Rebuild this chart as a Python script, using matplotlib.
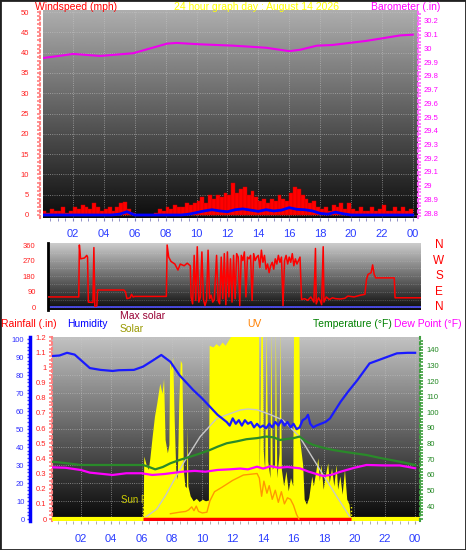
import numpy as np
import matplotlib
matplotlib.use('Agg')
import matplotlib.pyplot as plt
from matplotlib.patches import Rectangle
from matplotlib.transforms import blended_transform_factory

plt.rcParams['font.family'] = ['Liberation Sans', 'DejaVu Sans']

# ---------------- data ----------------
hour_ticks = list(range(2, 25, 2))
hour_labels = ['02', '04', '06', '08', '10', '12', '14', '16', '18', '20', '22', '00']

# barometer (inHg)
baro_hours = [0.06, 1.4, 2.0, 3.75, 5.9, 7.0, 8.1, 8.7, 10.2, 12.4, 14.5, 16.0, 16.7,
              17.8, 18.8, 21.0, 22.1, 23.2, 24.0]
baro_in = [29.93, 29.95, 29.96, 29.945, 29.965, 30.0, 30.035, 30.04, 30.03, 30.02,
           30.005, 29.98, 29.99, 30.02, 30.025, 30.055, 30.075, 30.095, 30.1]

# wind gust (mph), one value per 15 minutes
gust = [1, 0.5, 1.5, 1,   1, 2, 0.5, 1,   2, 1.5, 2.5, 2,   1.5, 3, 2, 1,
        1.5, 2, 1, 2,     3, 3.3, 1.5, 0.5,  0, 0, 0, 0,   0, 0.5, 1.5, 1,
        2, 1.5, 2.5, 2,   2, 3, 2.5, 3,   3.5, 4.5, 3, 5,   4, 5, 4.5, 5.5,
        5, 7.9, 5.5, 6.5,  7, 5, 6, 4.5,  3.5, 4, 3, 4,   3.5, 5, 4, 3.5,
        5.5, 7, 6.5, 5,   4, 3, 3.5, 2,   1.5, 2, 1, 2.5,  2, 3, 1.5, 3,
        1.5, 1, 2, 1,     1, 2, 1, 1.5,   2.5, 1, 1, 2,   1, 2, 1, 1.5]
gust_hours = np.arange(len(gust)) * 0.25

# average wind speed (mph), half-hourly
avg_hours = np.arange(49) * 0.5
avg_wind = [0, 0, 0, 0, 0, 0, 0, 0, 0, 0, 0.2, 0.8, 0, 0, 0, 0, 0, 0, 0, 0.2,
            0.6, 1.0, 1.3, 1.0, 0.8, 1.3, 1.5, 1.2, 0.9, 1.3, 1.0, 1.2, 1.8, 1.4,
            1.3, 1.0, 0.4, 0.2, 0.7, 0.3, 0, 0, 0, 0, 0, 0, 0, 0, 0]

# wind direction (degrees)
dir_hours = [0.39, 2.38, 2.42, 2.5, 2.75, 2.9, 2.95, 3.0, 3.3, 3.36, 3.42, 3.55, 3.6,
             5.3, 5.4, 5.5, 5.7, 5.8, 5.9, 6.0, 8.05, 8.1, 8.2, 8.35, 8.6, 8.8, 8.95,
             9.2, 9.4, 9.6, 9.65, 9.75, 9.85, 9.95, 10.05, 10.15, 10.25, 10.35, 10.45,
             10.55, 10.65, 10.75, 10.85, 10.95, 11.05, 11.15, 11.3, 11.4, 11.5, 11.6,
             11.7, 11.8, 11.9, 12.0, 12.1, 12.2, 12.3, 12.4, 12.5, 12.6, 12.7, 12.8,
             12.9, 13.0, 13.1, 13.2, 13.3, 13.4, 13.5, 13.6, 13.7, 13.8, 13.9, 14.0,
             14.1, 14.2, 14.3, 14.4, 14.5, 14.6, 14.7, 14.8, 14.9, 15.0, 15.1, 15.2,
             15.3, 15.4, 15.5, 15.6, 15.7, 15.8, 15.9, 16.0, 16.1, 16.2, 16.3, 16.4,
             16.5, 16.6, 16.7, 16.8, 17.0, 17.2, 17.4, 17.6, 17.7, 17.75, 17.9, 18.0,
             18.1, 18.2, 18.25, 18.4, 18.6, 18.8, 19.0, 19.3, 19.6, 19.8, 20.2, 20.6,
             20.9, 21.0, 21.1, 21.3, 21.4, 21.5, 21.6, 22.8, 22.85, 24.53]
dir_deg = [60, 60, 360, 280, 285, 300, 290, 30, 28, 345, 5, 8, 100,
           100, 90, 50, 55, 75, 60, 63, 63, 360, 290, 265, 250, 215, 250,
           240, 255, 240, 60, 20, 300, 40, 350, 30, 60, 320, 45,
           10, 40, 330, 50, 70, 30, 45, 300, 40, 20, 290,
           50, 310, 15, 320, 60, 280, 30, 300, 50, 310, 290, 10,
           300, 270, 320, 60, 290, 280, 300, 40, 310, 270, 290, 300,
           230, 330, 260, 300, 220, 250, 200, 240, 260, 220, 280, 250,
           300, 260, 290, 10, 270, 300, 250, 290, 260, 310, 240, 280,
           250, 270, 290, 45, 50, 40, 60, 30, 340, 20, 55, 40,
           15, 350, 30, 60, 45, 55, 50, 48, 52, 65, 60, 70,
           75, 160, 190, 200, 245, 190, 170, 170, 55, 55]

# humidity (%)
hum_hours = [0.1, 0.6, 1.1, 1.6, 2.0, 2.6, 3.3, 4.1, 4.5, 5.5, 6.1, 6.7, 7.3, 7.9, 8.5,
             9.4, 10.0, 10.5, 11.0, 11.6, 11.8, 12.0, 12.2, 12.4, 12.6, 12.8, 13.0,
             13.2, 13.4, 13.6, 13.8, 14.0, 14.2, 14.4, 14.6, 14.8, 15.0, 15.2, 15.4,
             15.6, 15.8, 16.0, 16.2, 16.4, 16.6, 16.8, 16.95, 17.1, 17.3, 17.5, 17.8,
             18.1, 18.4, 18.7, 19.1, 19.6, 20.2, 21.0, 21.9, 22.8, 23.5, 24.0]
hum = [90.7, 91, 92.5, 91.5, 88.5, 84, 83, 82.4, 82.8, 83, 84.8, 88, 91.3, 87.5, 80,
       71.8, 67, 62.5, 58, 54, 52, 56, 53, 55, 52, 55, 53,
       54, 51, 53, 51, 52, 50.5, 53, 51, 54, 52, 55, 52,
       54, 51, 53, 50, 51, 55, 56, 58, 53, 51, 52, 53,
       54, 56, 60, 65.3, 71, 77.3, 86.6, 89.4, 92.2, 92.5, 92.5]

# temperature and dew point (F)
temp_hours = [0.1, 1.0, 2.0, 4.0, 6.1, 6.5, 6.9, 7.4, 7.9, 8.5, 9.2, 9.8, 10.5, 11.0,
              11.6, 12.3, 12.9, 13.6, 14.2, 14.7, 15.1, 15.6, 16.0, 16.4, 16.8, 17.3,
              18.0, 18.6, 19.5, 20.8, 21.6, 22.4, 23.2, 24.0]
temp = [68.4, 67.5, 66.3, 66.3, 66.3, 65, 63.5, 65, 67.4, 69.5, 71.6, 73.5, 75.9, 78,
        80.2, 81.5, 82.8, 83.5, 84.5, 84, 82.3, 83, 83.5, 84.5, 81.5, 79.1,
        77.2, 75.9, 74.5, 72.7, 71, 69.5, 68, 66.3]
dew_hours = [0.1, 1.0, 2.0, 2.6, 3.5, 4.1, 5.0, 6.0, 6.7, 7.5, 8.7, 9.5, 10.2, 11.0,
             11.8, 12.5, 13.0, 13.6, 14.0, 14.5, 15.0, 15.6, 16.4, 17.0, 17.95, 18.5,
             19.1, 20.0, 20.8, 22.0, 23.0, 24.0]
dew = [64.8, 64.5, 63.1, 61.4, 60.5, 59.9, 61, 61, 59.9, 60.5, 62, 62.5, 62, 63.1,
       63.5, 64, 63.5, 65.2, 64, 65.5, 64.5, 65, 64.2, 62, 59.2, 60,
       62, 64.5, 66.3, 66, 66, 64.2]

# solar radiation (W/m2)
solar_hours = [6.0, 6.1, 6.15, 6.3, 6.45, 6.55, 6.7, 6.85, 7.0, 7.2, 7.35, 7.45, 7.55,
               7.7, 7.8, 7.85, 7.95, 8.05, 8.15, 8.25, 8.35, 8.45, 8.55, 8.65, 8.75,
               8.85, 8.95, 9.0, 9.05, 9.2, 9.4, 9.6, 9.8, 10.0, 10.2, 10.4, 10.45,
               10.7, 10.9, 11.1, 11.3, 11.5, 11.7, 11.9, 12.2, 13.0, 13.7, 13.75, 13.85,
               13.95, 14.0, 14.1, 14.2, 14.3, 14.45, 14.5, 14.6, 14.75, 14.8, 14.9,
               15.05, 15.1, 15.2, 15.35, 15.5, 15.65, 15.8, 15.95, 16.0, 16.35, 16.4,
               16.6, 16.7, 16.85, 17.0, 17.2, 17.3, 17.45, 17.6, 17.7, 17.8, 17.95,
               18.1, 18.25, 18.35, 18.5, 18.65, 18.8, 18.9, 19.05, 19.2, 19.35, 19.5,
               19.65, 19.75]
solar = [0, 0, 380, 330, 300, 370, 500, 620, 700, 820, 760, 850, 480,
         400, 450, 970, 900, 980, 600, 300, 240, 700, 960, 940, 300,
         200, 190, 560, 200, 140, 110, 125, 105, 120, 110, 115, 1050,
         1040, 1060, 1045, 1070, 1050, 1080, 1110, 1150, 1150, 1150, 280, 1150,
         1150, 420, 300, 1150, 350, 250, 1150, 300, 330, 1150, 250,
         400, 1150, 300, 200, 290, 170, 250, 200, 1150, 1150, 480,
         330, 120, 90, 130, 260, 200, 280, 370, 230, 330, 180,
         270, 340, 220, 310, 200, 330, 180, 260, 150, 300, 120,
         90, 0]

maxsolar_hours = [6.1, 7.0, 7.6, 8.75, 9.85, 10.95, 12.5, 13.0, 13.6, 14.5, 15.3, 16.4,
                  17.75, 18.85, 19.8]
maxsolar = [0, 60, 145, 337, 497, 608, 659, 665, 660, 630, 598, 497, 296, 135, 0]

# UV index
uv_hours = [7.9, 8.5, 8.9, 9.1, 9.3, 9.45, 9.6, 9.75, 10.0, 10.3, 10.5, 10.8, 11.3,
            12.0, 12.7, 13.6, 13.75, 13.9, 14.05, 14.25, 14.4, 14.6, 14.8, 15.0,
            15.2, 15.4, 15.6, 15.8, 16.0, 16.2, 16.35]
uv = [0.35, 0.45, 0.5, 0.6, 0.8, 0.55, 0.85, 0.5, 0.4, 0.45, 1.2, 1.8, 2.1,
      2.55, 2.9, 3.0, 2.7, 1.5, 2.5, 1.7, 2.2, 1.3, 1.9, 1.1,
      1.8, 1.0, 1.4, 1.3, 0.9, 0.3, 0.0]

sun_rise, sun_set = 6.1, 19.75

# ---------------- figure ----------------
W, H = 466, 550
fig = plt.figure(figsize=(W / 100, H / 100), dpi=100)
fig.patch.set_facecolor('white')


def box(left, top, right, bottom):
    return [left / W, 1 - bottom / H, (right - left) / W, (bottom - top) / H]


def gradient(ax, top, bottom):
    g = np.linspace(top, bottom, 256).reshape(-1, 1)
    ax.imshow(g, extent=(0, 1, 0, 1), transform=ax.transAxes, aspect='auto',
              cmap='gray', vmin=0, vmax=1, zorder=0, interpolation='bilinear')


def hide_spines(ax, keep=()):
    for s in ax.spines:
        ax.spines[s].set_visible(s in keep)


def ftext(x, y, s, color, ha='left', size=7.5):
    fig.text(x / W, 1 - y / H, s, color=color, ha=ha, va='center', fontsize=size)


# ---- panel 1: wind speed + barometer ----
ax1 = fig.add_axes(box(43, 10, 418, 218))
gradient(ax1, 0.68, 0.05)
ax1.bar(gust_hours, gust, width=0.25, align='edge', color='#ff0000',
        edgecolor='#cc0000', lw=0.3, zorder=3)
ax1.plot(avg_hours, avg_wind, color='#0000ff', lw=2, zorder=4)
ax1.set_xlim(0.06, 24.34)
ax1.set_ylim(-0.74, 50.5)
ax1.set_yticks(range(0, 51, 5))
ax1.set_yticks(range(0, 51), minor=True)
ax1.set_xticks(hour_ticks, hour_labels)
ax1.set_xticks(np.arange(0.5, 24.1, 0.5), minor=True)
ax1.tick_params(axis='y', which='both', color='#ff8080', labelcolor='#ff2020',
                labelsize=5.5, length=2, width=1.2, pad=6)
ax1.tick_params(axis='x', which='both', color='#8080c0', labelcolor='#2a3cff',
                labelsize=8, length=2, pad=6)
ax1.grid(True, color='#c8c8c8', ls=':', lw=0.6, alpha=0.7)
hide_spines(ax1, keep=('left',))
ax1.spines['left'].set_color('#ff8080')
ax1.spines['left'].set_linestyle(':')
ax1.spines['left'].set_linewidth(1.5)
ax1.spines['left'].set_position(('outward', 2))

ax1b = ax1.twinx()
ax1b.plot(baro_hours, baro_in, color='#ee00ee', lw=1.5)
ax1b.set_ylim(28.764, 30.28)
baro_ticks = [28.8, 28.9, 29.0, 29.1, 29.2, 29.3, 29.4, 29.5, 29.6, 29.7, 29.8, 29.9,
              30.0, 30.1, 30.2]
ax1b.set_yticks(baro_ticks, ['%g' % t for t in baro_ticks])
ax1b.set_yticks(np.arange(28.775, 30.26, 0.025), minor=True)
ax1b.tick_params(axis='y', which='both', color='#ff66ff', labelcolor='#ff00ff',
                 labelsize=5.5, length=2, width=1.2, pad=2)
hide_spines(ax1b, keep=('right',))
ax1b.spines['right'].set_color('#ff66ff')
ax1b.spines['right'].set_linestyle(':')
ax1b.spines['right'].set_linewidth(1.5)

ftext(35, 7, 'Windspeed (mph)', '#ff0000')
ftext(257, 7, '24 hour graph day : August 14 2026', '#ffff00', ha='center')
ftext(440, 7, 'Barometer (.in)', '#ff00ff', ha='right')

# ---- panel 2: wind direction ----
ax2 = fig.add_axes(box(48, 243, 421, 310))
gradient(ax2, 0.80, 0.04)
ax2.axhline(0, color='#5050ff', lw=1.2, zorder=2)
ax2.plot(dir_hours, dir_deg, color='#ff0000', lw=1.1, zorder=3)
ax2.set_xlim(0.39, 24.53)
ax2.set_ylim(-15.6, 371.6)
ax2.set_yticks([0, 90, 180, 270, 360])
ax2.set_xticks([])
ax2.set_yticks([45, 135, 225, 315], minor=True)
ax2.tick_params(axis='y', which='both', color='#ff8080', labelcolor='#ff2020',
                labelsize=5.5, length=0, pad=9)
ax2.grid(True, axis='y', which='both', color='#c8c8c8', ls=':', lw=0.5, alpha=0.5)
hide_spines(ax2, keep=('left',))
ax2.spines['left'].set_color('black')
ax2.spines['left'].set_linewidth(2)
tr2 = blended_transform_factory(ax2.transAxes, ax2.transData)
for deg, letter in zip([360, 270, 180, 90, 0], ['N', 'W', 'S', 'E', 'N']):
    ax2.text(1.048, deg, letter, transform=tr2, color='#ff0000', fontsize=8.5,
             ha='center', va='center')

# ---- panel 3: rain / humidity / solar / uv / temperature ----
ax3 = fig.add_axes(box(52, 337, 420, 521))
gradient(ax3, 0.76, 0.03)
ax3.set_xlim(0.11, 24.32)
ax3.set_ylim(-0.013, 1.201)
rain_ticks = [0, 0.1, 0.2, 0.3, 0.4, 0.5, 0.6, 0.7, 0.8, 0.9, 1.0, 1.1, 1.2]
ax3.set_yticks(rain_ticks, ['%g' % t for t in rain_ticks])
ax3.set_yticks(np.arange(0, 1.2, 0.025), minor=True)
ax3.set_xticks(hour_ticks, hour_labels)
ax3.set_xticks(np.arange(0.5, 24.1, 0.5), minor=True)
ax3.tick_params(axis='y', which='both', color='#ff8080', labelcolor='#ff2020',
                labelsize=5.5, length=2, width=1.2, pad=2)
ax3.tick_params(axis='x', which='both', color='#a0a0a0', labelcolor='#2a3cff',
                labelsize=8, length=2, pad=7)
ax3.grid(True, axis='x', color='#c8c8c8', ls=':', lw=0.6, alpha=0.7)
hide_spines(ax3, keep=('left',))
ax3.spines['left'].set_color('#ff8080')
ax3.spines['left'].set_linestyle(':')
ax3.spines['left'].set_linewidth(1.5)
ax3.text(4.65, 0.125, 'Sun Rise', color='#cccc00', fontsize=7, va='center', zorder=1)
ax3.plot([sun_rise, sun_rise], [0, 0.1], color='#ffff00', ls=':', lw=1, zorder=1)
ax3.plot([sun_set, sun_set], [0, 0.1], color='#ffff00', ls=':', lw=1, zorder=1)

ax_g = ax3.twinx()
ax_g.set_ylim(-1.11, 101.3)
ax_g.set_yticks(range(0, 101, 10))
ax_g.tick_params(axis='y', length=0, labelright=False)
ax_g.grid(True, axis='y', color='#c8c8c8', ls=':', lw=0.6, alpha=0.7)
hide_spines(ax_g)

ax_s = ax3.twinx()
ax_s.fill_between(solar_hours, solar, color='#ffff00', lw=0)
ax_s.plot(maxsolar_hours, maxsolar, color='#c8c8c8', lw=1)
ax_s.plot([0.11, 24.32], [0, 0], color='#ffff00', lw=3, solid_capstyle='butt')
ax_s.plot([sun_rise, sun_set], [0, 0], color='#ff0000', lw=2.5, solid_capstyle='butt')
ax_s.set_ylim(-12, 1100)
ax_s.set_yticks([])
hide_spines(ax_s)

ax_uv = ax3.twinx()
ax_uv.plot(uv_hours, uv, color='#ff9900', lw=1)
ax_uv.set_ylim(-0.13, 12)
ax_uv.set_yticks([])
hide_spines(ax_uv)

ax_h = ax3.twinx()
ax_h.plot(hum_hours, hum, color='#1a1aff', lw=1.6)
ax_h.set_ylim(-1.11, 101.3)
ax_h.yaxis.tick_left()
ax_h.set_yticks(range(0, 101, 10))
ax_h.set_yticks(range(0, 101, 2), minor=True)
ax_h.tick_params(axis='y', which='both', color='#4040ff', labelcolor='#3030ff',
                 labelsize=5.5, length=2, width=1, pad=2)
hide_spines(ax_h, keep=('left',))
ax_h.spines['left'].set_position(('axes', -22 / 368))
ax_h.spines['left'].set_color('#0000ff')
ax_h.spines['left'].set_linewidth(2.5)

ax_t = ax3.twinx()
ax_t.plot(temp_hours, temp, color='#2a8a2a', lw=1.6)
ax_t.plot(dew_hours, dew, color='#ff00ff', lw=1.6)
ax_t.set_ylim(30.4, 148.3)
ax_t.set_yticks(range(40, 141, 10))
ax_t.set_yticks(range(32, 148, 2), minor=True)
ax_t.tick_params(axis='y', which='both', color='#40a040', labelcolor='#228822',
                 labelsize=5.5, length=2, width=1.2, pad=3)
hide_spines(ax_t, keep=('right',))
ax_t.spines['right'].set_color('#40a040')
ax_t.spines['right'].set_linestyle(':')
ax_t.spines['right'].set_linewidth(1.5)

ftext(1, 324, 'Rainfall (.in)', '#ff0000')
ftext(67, 324, 'Humidity', '#0000ff')
ftext(120, 316, 'Max solar', '#990033')
ftext(120, 329, 'Solar', '#999900')
ftext(247, 324, 'UV', '#ff8000')
ftext(313, 324, 'Temperature (\u00b0F)', '#008000')
ftext(394, 324, 'Dew Point (\u00b0F)', '#ff00ff')

fig.patches.append(Rectangle((0, 0), 1, 1, transform=fig.transFigure, fill=False,
                             edgecolor='#202020', lw=2))

fig.savefig('out.png', dpi=100)
